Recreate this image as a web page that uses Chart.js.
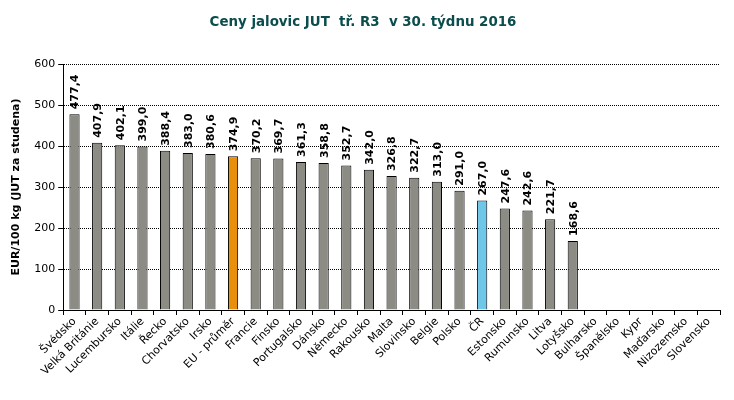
<!DOCTYPE html>
<html><head><meta charset="utf-8">
<script src="https://cdn.jsdelivr.net/npm/chart.js@4/dist/chart.umd.min.js"></script>
<style>html,body{margin:0;padding:0;background:#fff}#w{width:734px;height:400px}</style>
</head><body><div id="w"><canvas id="c"></canvas></div>
<script>
const categories = ["Švédsko","Velká Británie","Lucembursko","Itálie","Řecko","Chorvatsko","Irsko","EU - průměr","Francie","Finsko","Portugalsko","Dánsko","Německo","Rakousko","Malta","Slovinsko","Belgie","Polsko","ČR","Estonsko","Rumunsko","Litva","Lotyšsko","Bulharsko","Španělsko","Kypr","Maďarsko","Nizozemsko","Slovensko"];
const prices = [477.4,407.9,402.1,399.0,388.4,383.0,380.6,374.9,370.2,369.7,361.3,358.8,352.7,342.0,326.8,322.7,313.0,291.0,267.0,247.6,242.6,221.7,168.6,null,null,null,null,null,null];
const yTicks = [0,100,200,300,400,500,600];
const titleText = "Ceny jalovic JUT  tř. R3  v 30. týdnu 2016";
const yTitle = "EUR/100 kg (JUT za studena)";

const colors = categories.map(c => c === "EU - průměr" ? "#e8900c" : (c === "ČR" ? "#6ec6e8" : "#8c8b84"));

const labelPlugin = {
  id: 'vals',
  afterDatasetsDraw(chart) {
    const ctx = chart.ctx;
    const meta = chart.getDatasetMeta(0);
    ctx.save();
    ctx.font = 'bold 11px "DejaVu Sans"';
    ctx.fillStyle = '#000';
    ctx.textAlign = 'left';
    ctx.textBaseline = 'middle';
    meta.data.forEach((bar, i) => {
      const v = prices[i];
      if (v === null) return;
      ctx.save();
      ctx.translate(bar.x + 1, bar.y - 5);
      ctx.rotate(-Math.PI / 2);
      ctx.fillText(v.toFixed(1).replace('.', ','), 0, 0);
      ctx.restore();
    });
    ctx.restore();
  }
};

new Chart(document.getElementById('c'), {
  type: 'bar',
  data: {
    labels: categories,
    datasets: [{
      data: prices,
      backgroundColor: colors,
      borderColor: '#000',
      borderWidth: 1,
      barPercentage: 0.45,
      categoryPercentage: 1.0
    }]
  },
  options: {
    responsive: true,
    maintainAspectRatio: false,
    animation: false,
    layout: { padding: { left: 6, right: 14, top: 4, bottom: 0 } },
    plugins: {
      legend: { display: false },
      tooltip: { enabled: false },
      title: {
        display: true,
        text: titleText,
        color: '#0b4d4d',
        font: { family: '"DejaVu Sans"', size: 13.4, weight: 'bold' },
        padding: { top: 10, bottom: 34 }
      }
    },
    scales: {
      x: {
        afterFit(axis) { axis.height = 90; },
        grid: { display: true, drawOnChartArea: false, drawTicks: true, tickLength: 5, offset: true, color: '#000' },
        border: { color: '#000', width: 1 },
        ticks: {
          color: '#000',
          font: { family: '"DejaVu Sans"', size: 11 },
          maxRotation: 45, minRotation: 45,
          autoSkip: false,
          padding: 0
        }
      },
      y: {
        min: 0, max: 600,
        afterBuildTicks(axis) { axis.ticks = yTicks.map(v => ({ value: v })); },
        grid: { color: '#000', lineWidth: 1, tickLength: 5, drawTicks: true, tickColor: '#000' },
        border: { color: '#000', width: 1, dash: [1, 1] },
        ticks: {
          color: '#000',
          font: { family: '"DejaVu Sans"', size: 11 },
          padding: 3
        },
        title: {
          display: true,
          text: yTitle,
          color: '#000',
          font: { family: '"DejaVu Sans"', size: 11, weight: 'bold' },
          padding: { bottom: 8 }
        }
      }
    }
  },
  plugins: [labelPlugin]
});
</script>
</body></html>
